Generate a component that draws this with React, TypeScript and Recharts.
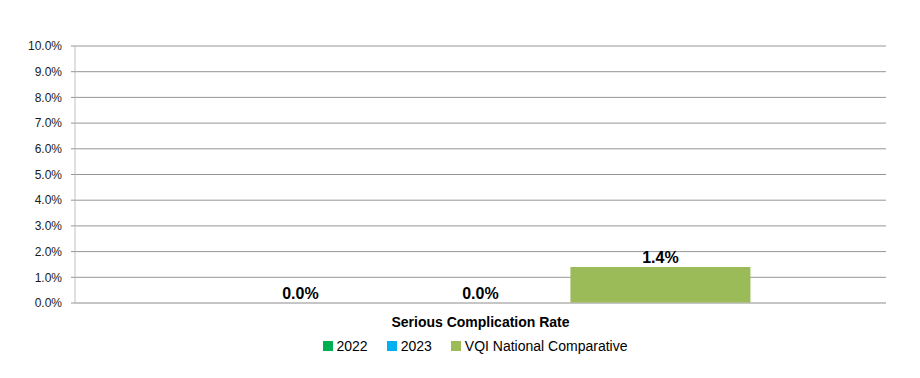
import React from 'react';
import { BarChart, Bar, XAxis, YAxis, CartesianGrid, Legend, LabelList } from 'recharts';

const categories = ['Serious Complication Rate'];
const rate2022 = [0.0];
const rate2023 = [0.0];
const vqiNational = [1.4];
const yTicks = [0, 1, 2, 3, 4, 5, 6, 7, 8, 9, 10];

const seriesInfo = [
  { key: 'y2022', name: '2022', color: '#00B050' },
  { key: 'y2023', name: '2023', color: '#00B0F0' },
  { key: 'vqi', name: 'VQI National Comparative', color: '#9BBB59' },
];

const data = categories.map((name, i) => ({
  name,
  y2022: rate2022[i],
  y2023: rate2023[i],
  vqi: vqiNational[i],
}));

const FONT = '"Liberation Sans", Arial, sans-serif';
const pct = (v: number) => `${Number(v).toFixed(1)}%`;

// simple legend with square swatches like the Excel export
const renderLegend = () => (
  <div style={{ display: 'flex', justifyContent: 'center', alignItems: 'center', height: 24, paddingLeft: 30, fontFamily: FONT, fontSize: 14, color: '#000' }}>
    {seriesInfo.map((s, i) => (
      <div key={s.key} style={{ display: 'flex', alignItems: 'center', marginLeft: i === 0 ? 0 : 19 }}>
        <span style={{ display: 'inline-block', width: 10, height: 10, background: s.color, marginRight: 4 }} />
        <span>{s.name}</span>
      </div>
    ))}
  </div>
);

const App: React.FC = () => {
  return (
    <div style={{ position: 'absolute', left: 0, top: 0, background: '#fff' }}>
      <BarChart
        width={920}
        height={378}
        data={data}
        margin={{ top: 46, right: 34, left: 0, bottom: 20 }}
        barCategoryGap="16.7%"
        barGap={0}
      >
        <CartesianGrid vertical={false} stroke="#969696" />
        <XAxis
          dataKey="name"
          axisLine={{ stroke: '#c0c0c0' }}
          tickLine={false}
          tickSize={0}
          tickMargin={14}
          height={31}
          tick={{ fontFamily: FONT, fontSize: 14, fontWeight: 'bold', fill: '#000' }}
        />
        <YAxis
          width={75}
          domain={[0, 10]}
          ticks={yTicks}
          tickFormatter={pct}
          axisLine={{ stroke: '#c0c0c0' }}
          tickLine={{ stroke: '#969696' }}
          tickSize={4}
          tickMargin={9}
          tick={{ fontFamily: FONT, fontSize: 12, fill: '#1a1a1a' }}
        />
        <Legend
          verticalAlign="bottom"
          height={24}
          wrapperStyle={{ left: 0, width: 920 }}
          content={renderLegend}
        />
        {seriesInfo.map(s => (
          <Bar key={s.key} dataKey={s.key} name={s.name} fill={s.color} minPointSize={0.001} isAnimationActive={false}>
            <LabelList
              dataKey={s.key}
              position="top"
              offset={4}
              formatter={(v: any) => pct(v)}
              style={{ fontFamily: FONT, fontSize: 16, fontWeight: 'bold', fill: '#000' }}
            />
          </Bar>
        ))}
      </BarChart>
    </div>
  );
};

export default App;
